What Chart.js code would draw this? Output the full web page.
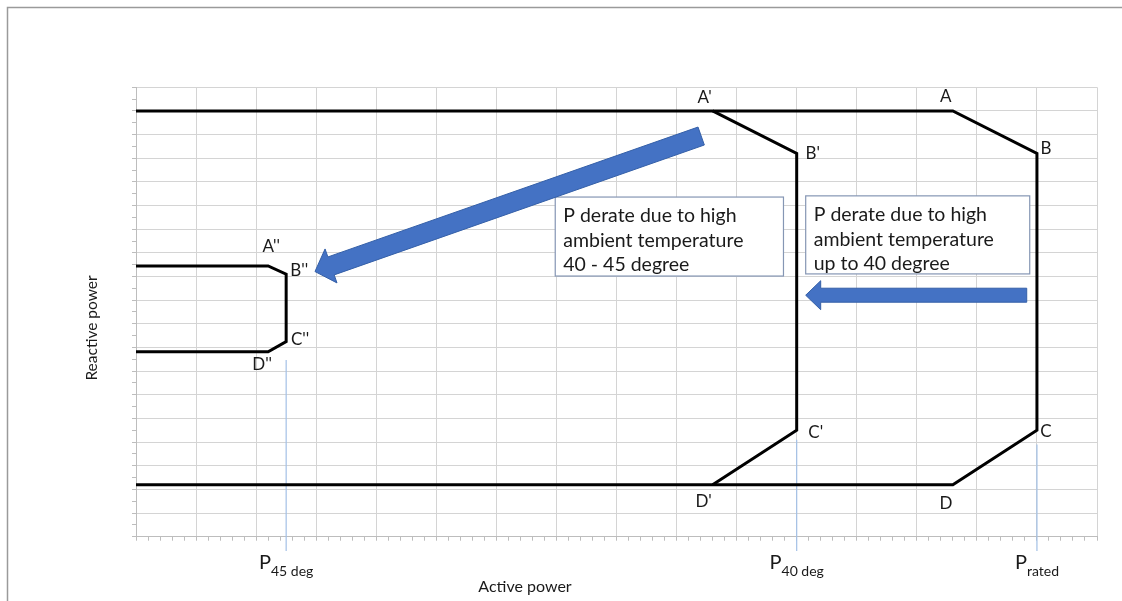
<!DOCTYPE html>
<html>
<head>
<meta charset="utf-8">
<script src="https://cdn.jsdelivr.net/npm/chart.js@4/dist/chart.umd.min.js"></script>
<style>
html,body{margin:0;padding:0;background:#fff;overflow:hidden}
#wrap{position:relative;width:1122px;height:601px}
</style>
</head>
<body>
<div id="wrap"><canvas id="c"></canvas></div>
<script>
// ---------------- data ----------------
const ratedX = [0, 13.6, 15, 15, 13.6, 0];
const ratedY = [18, 18, 16.2, 4.5, 2.2, 2.2];
const deg40X = [9.6, 11, 11, 9.6];
const deg40Y = [18, 16.2, 4.5, 2.2];
const deg45X = [0, 2.2, 2.5, 2.5, 2.2, 0];
const deg45Y = [11.45, 11.45, 11.1, 8.25, 7.82, 7.82];

const pLimitNames = ['45 deg', '40 deg', 'rated'];
const pLimitValues = [2.5, 11, 15];
const pLimitTops = [7.47, 4.1, 3.9];
const pLimitBottom = -0.6;

const ratedLabels = ['A', 'B', 'C', 'D'];        // vertices 1..4 of rated
const deg40Labels = ["A'", "B'", "C'", "D'"];    // vertices 0..3 of 40 deg
const deg45Labels = ["A''", "B''", "C''", "D''"]; // vertices 1..4 of 45 deg

const xAxisTitle = 'Active power';
const yAxisTitle = 'Reactive power';
const note1 = ['P derate due to high', 'ambient temperature', '40 - 45 degree'];
const note2 = ['P derate due to high', 'ambient temperature', 'up to 40 degree'];

// ---------------- layout / style ----------------
const FONT = 'Lato, "Open Sans", sans-serif';
const TEXT = '#1a1a1a';
const GRID = '#d4d4d4';
const AXIS = '#bdbdbd';
const BLUE = '#4472c4';

const labelOffsets = {
  rated: [[-7, -14], [9, -5], [9, 1], [-7, 19]],
  deg40: [[-8, -13], [16, 0], [19, 2], [-9, 17]],
  deg45: [[3, -19], [13, -4], [14, -2], [-6, 13]]
};
const noteBoxes = [
  {lines: note1, x0: 6.98, x1: 10.78, yTop: 14.36, yBot: 11.02},
  {lines: note2, x0: 11.15, x1: 14.88, yTop: 14.41, yBot: 11.11}
];
const arrows = [
  {from: [9.41, 16.94], to: [2.98, 11.21], shaft: 19, head: 36, headLen: 17},
  {from: [14.83, 10.21], to: [11.15, 10.21], shaft: 14, head: 29, headLen: 15}
];

const pts = (xs, ys) => xs.map((x, i) => ({x, y: ys[i]}));
const isMajor = v => Math.abs(v - Math.round(v)) < 1e-6;

const outline = {borderColor: '#000', borderWidth: 3, pointRadius: 0, showLine: true,
  fill: false, tension: 0, borderJoinStyle: 'miter', borderCapStyle: 'butt'};
const limitStyle = {borderColor: '#a3c0e6', borderWidth: 1.2, pointRadius: 0,
  showLine: true, fill: false, clip: false};

function drawArrow(c, x1, y1, x2, y2, w, hw, hl) {
  const dx = x2 - x1, dy = y2 - y1, L = Math.hypot(dx, dy);
  const ux = dx / L, uy = dy / L, nx = -uy, ny = ux;
  const bx = x2 - ux * hl, by = y2 - uy * hl;
  c.beginPath();
  c.moveTo(x1 + nx * w / 2, y1 + ny * w / 2);
  c.lineTo(bx + nx * w / 2, by + ny * w / 2);
  c.lineTo(bx + nx * hw / 2, by + ny * hw / 2);
  c.lineTo(x2, y2);
  c.lineTo(bx - nx * hw / 2, by - ny * hw / 2);
  c.lineTo(bx - nx * w / 2, by - ny * w / 2);
  c.lineTo(x1 - nx * w / 2, y1 - ny * w / 2);
  c.closePath();
  c.fillStyle = BLUE;
  c.fill();
  c.strokeStyle = '#3560a8';
  c.lineWidth = 1;
  c.stroke();
}

const overlay = {
  id: 'overlay',
  beforeDraw(chart) {
    const c = chart.ctx;
    c.save();
    c.fillStyle = '#fff';
    c.fillRect(0, 0, chart.width, chart.height);
    c.strokeStyle = '#9a9a9a';
    c.lineWidth = 1.5;
    c.beginPath();
    c.moveTo(7.5, chart.height + 5);
    c.lineTo(7.5, 7.5);
    c.lineTo(chart.width + 5, 7.5);
    c.stroke();
    c.restore();
  },
  afterDatasetsDraw(chart) {
    const c = chart.ctx, xs = chart.scales.x, ys = chart.scales.y;
    const X = v => xs.getPixelForValue(v), Y = v => ys.getPixelForValue(v);
    c.save();

    // note boxes
    noteBoxes.forEach(b => {
      const l = X(b.x0), r = X(b.x1), t = Y(b.yTop), btm = Y(b.yBot);
      c.fillStyle = '#fff';
      c.fillRect(l, t, r - l, btm - t);
      c.strokeStyle = '#8596b4';
      c.lineWidth = 1.2;
      c.strokeRect(l, t, r - l, btm - t);
      c.fillStyle = TEXT;
      c.font = '19.5px ' + FONT;
      c.textAlign = 'left';
      c.textBaseline = 'middle';
      b.lines.forEach((s, i) => c.fillText(s, l + 8, t + 19 + i * 24.5));
    });

    // arrows
    arrows.forEach(a => drawArrow(c, X(a.from[0]), Y(a.from[1]), X(a.to[0]), Y(a.to[1]),
      a.shaft, a.head, a.headLen));

    // vertex labels
    c.fillStyle = TEXT;
    c.font = '17px ' + FONT;
    c.textAlign = 'center';
    c.textBaseline = 'middle';
    const lab = (xsArr, ysArr, names, start, offs) => names.forEach((n, i) => {
      const k = start + i;
      c.fillText(n, X(xsArr[k]) + offs[i][0], Y(ysArr[k]) + offs[i][1]);
    });
    lab(ratedX, ratedY, ratedLabels, 1, labelOffsets.rated);
    lab(deg40X, deg40Y, deg40Labels, 0, labelOffsets.deg40);
    lab(deg45X, deg45Y, deg45Labels, 1, labelOffsets.deg45);

    // x tick labels P_sub
    c.textBaseline = 'alphabetic';
    c.textAlign = 'left';
    pLimitValues.forEach((v, i) => {
      c.font = '20px ' + FONT;
      const wP = c.measureText('P').width;
      c.font = '14px ' + FONT;
      const wS = c.measureText(pLimitNames[i]).width;
      const x0 = X(v) - (wP + wS) / 2;
      c.font = '20px ' + FONT;
      c.fillText('P', x0, 569);
      c.font = '14px ' + FONT;
      c.fillText(pLimitNames[i], x0 + wP, 576);
    });

    // axis titles
    c.font = '16px ' + FONT;
    c.textAlign = 'center';
    c.textBaseline = 'middle';
    c.fillText(xAxisTitle, 525, 587);
    c.translate(92, 328);
    c.rotate(-Math.PI / 2);
    c.font = '15.5px ' + FONT;
    c.fillText(yAxisTitle, 0, 0);
    c.restore();
  }
};

new Chart(document.getElementById('c'), {
  type: 'scatter',
  data: {
    datasets: [
      {label: 'Rated', data: pts(ratedX, ratedY), ...outline},
      {label: '40 deg', data: pts(deg40X, deg40Y), ...outline},
      {label: '45 deg', data: pts(deg45X, deg45Y), ...outline},
      ...pLimitValues.map((v, i) => ({label: 'P ' + pLimitNames[i],
        data: [{x: v, y: pLimitTops[i]}, {x: v, y: pLimitBottom}], ...limitStyle}))
    ]
  },
  options: {
    responsive: true,
    maintainAspectRatio: false,
    animation: false,
    devicePixelRatio: 1,
    layout: {padding: {left: 0, top: 87.3, right: 25, bottom: 0}},
    plugins: {legend: {display: false}, tooltip: {enabled: false}},
    scales: {
      x: {
        type: 'linear', min: 0, max: 16,
        afterFit: s => { s.height = 64.3; },
        ticks: {stepSize: 0.2, autoSkip: false, callback: () => '', font: {size: 1}},
        grid: {
          color: ctx => isMajor(ctx.tick.value) ? GRID : 'rgba(0,0,0,0)',
          tickColor: AXIS, tickLength: 4, lineWidth: 1
        },
        border: {color: AXIS}
      },
      y: {
        type: 'linear', min: 0, max: 19,
        afterFit: s => { s.width = 136; },
        ticks: {stepSize: 0.5, autoSkip: false, callback: () => '', font: {size: 1}},
        grid: {
          color: ctx => isMajor(ctx.tick.value) ? GRID : 'rgba(0,0,0,0)',
          tickColor: AXIS, tickLength: 4, lineWidth: 1
        },
        border: {color: AXIS}
      }
    }
  },
  plugins: [overlay]
});
</script>
</body>
</html>
